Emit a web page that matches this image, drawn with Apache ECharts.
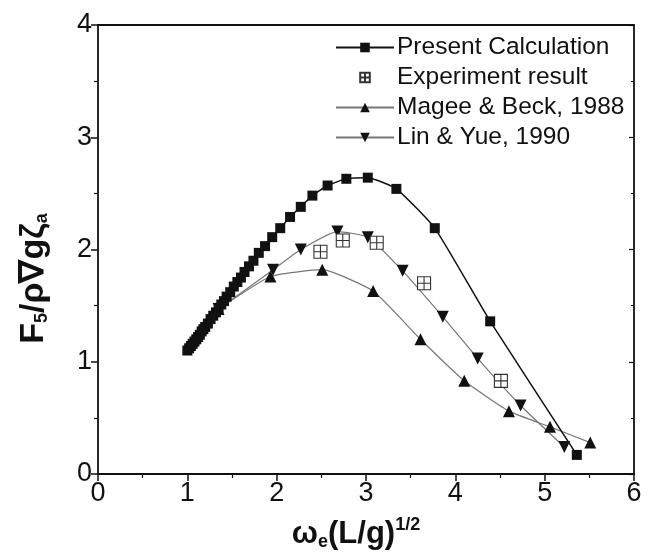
<!DOCTYPE html>
<html><head><meta charset="utf-8">
<script src="https://cdn.jsdelivr.net/npm/echarts@6/dist/echarts.min.js"></script>
<style>html,body{margin:0;padding:0;background:#fff}#c{width:648px;height:554px}</style>
</head><body><div id="c"></div>
<script>
var presentX = [1.00,1.02,1.04,1.06,1.08,1.10,1.12,1.14,1.16,1.18,1.20,1.23,1.26,1.29,1.32,1.35,1.38,1.41,1.44,1.48,1.52,1.56,1.60,1.64,1.69,1.74,1.80,1.87,1.95,2.04,2.15,2.27,2.40,2.57,2.78,3.02,3.34,3.77,4.39,5.36];
var presentY = [1.10,1.12,1.14,1.16,1.18,1.20,1.22,1.24,1.27,1.29,1.31,1.34,1.38,1.41,1.44,1.48,1.51,1.54,1.58,1.62,1.67,1.71,1.75,1.80,1.85,1.90,1.97,2.03,2.11,2.19,2.29,2.38,2.48,2.57,2.63,2.64,2.54,2.19,1.36,0.17];
var expX = [2.49,2.74,3.12,3.65,4.51];
var expY = [1.98,2.08,2.06,1.70,0.83];
var mageeX = [1.35,1.93,2.51,3.08,3.61,4.10,4.60,5.06,5.51];
var mageeY = [1.47,1.76,1.82,1.63,1.20,0.83,0.56,0.42,0.28];
var linX = [1.35,1.96,2.27,2.68,3.02,3.41,3.86,4.25,4.73,5.22];
var linY = [1.47,1.82,2.00,2.16,2.11,1.81,1.40,1.03,0.61,0.24];
var xTicks = ['0','1','2','3','4','5','6'];
var yTicks = ['0','1','2','3','4'];
var names = ['Present Calculation','Experiment result','Magee & Beck, 1988','Lin & Yue, 1990'];

function pairs(xs, ys){ return xs.map(function(x,i){return [x, ys[i]];}); }

var expSymbol = 'path://M0,0 L10,0 L10,10 L0,10 Z M5,0 L5,10 M0,5 L10,5';
var font = 'Liberation Sans, Arial, sans-serif';

var chart = echarts.init(document.getElementById('c'), null, {renderer:'canvas'});
chart.setOption({
  animation:false,
  backgroundColor:'#fff',
  grid:{left:98,right:14,top:25,bottom:80,containLabel:false,outerBoundsMode:'none'},
  legend:{
    left:330, top:30, orient:'vertical', itemGap:5, itemWidth:58, itemHeight:12,
    textStyle:{fontFamily:font,fontSize:24.5,color:'#111',padding:[0,0,0,-2]},
    data:names
  },
  xAxis:[{
    type:'value', min:0, max:6, interval:1, position:'bottom',
    name:'{w|ω}{s|e}{w|(L/g)}{p|1/2}', nameLocation:'middle', nameGap:42,
    nameTextStyle:{padding:[0,20,0,0],rich:{
      w:{fontFamily:font,fontSize:31,fontWeight:'bold',color:'#111'},
      s:{fontFamily:font,fontSize:18,fontWeight:'bold',color:'#111',padding:[16,0,0,0]},
      p:{fontFamily:font,fontSize:18,fontWeight:'bold',color:'#111',padding:[0,0,18,0]}
    }},
    axisLine:{show:true,onZero:false,lineStyle:{color:'#111',width:1.8}},
    axisTick:{show:true,inside:false,length:7,lineStyle:{color:'#111',width:1.5}},
    minorTick:{show:true,splitNumber:2,length:4,lineStyle:{color:'#111',width:1.2}},
    axisLabel:{fontFamily:font,fontSize:27,color:'#111',margin:6,formatter:function(v){return xTicks[v];}},
    splitLine:{show:false}
  },{
    type:'value', min:0, max:6, interval:1, position:'top',
    axisLine:{show:true,onZero:false,lineStyle:{color:'#111',width:1.8}},
    axisTick:{show:false}, axisLabel:{show:false}, splitLine:{show:false}
  }],
  yAxis:[{
    type:'value', min:0, max:4, interval:1, position:'left',
    name:'{b|F}{s|5}{b|/ρ∇gζ}{s|a}', nameLocation:'middle', nameGap:47, nameRotate:90,
    nameTextStyle:{padding:[0,58,0,0],rich:{
      b:{fontFamily:font,fontSize:34,fontWeight:'bold',color:'#111'},
      s:{fontFamily:font,fontSize:18,fontWeight:'bold',color:'#111',padding:[16,0,0,0]}
    }},
    axisLine:{show:true,onZero:false,lineStyle:{color:'#111',width:1.8}},
    axisTick:{show:true,inside:false,length:7,lineStyle:{color:'#111',width:1.5}},
    minorTick:{show:true,splitNumber:2,length:4,lineStyle:{color:'#111',width:1.2}},
    axisLabel:{fontFamily:font,fontSize:27,color:'#111',margin:6,formatter:function(v){return yTicks[v];}},
    splitLine:{show:false}
  },{
    type:'value', min:0, max:4, interval:1, position:'right',
    axisLine:{show:true,onZero:false,lineStyle:{color:'#111',width:1.8}},
    axisTick:{show:true,inside:true,length:5,lineStyle:{color:'#111',width:1.2}},
    minorTick:{show:true,splitNumber:2,length:3,lineStyle:{color:'#111',width:1}},
    axisLabel:{show:false}, splitLine:{show:false}
  }],
  series:[
    {name:names[0],type:'line',data:pairs(presentX,presentY),symbol:'rect',symbolSize:10,
     lineStyle:{color:'#111',width:1.5},itemStyle:{color:'#111'},smooth:0.15,z:5},
    {name:names[1],type:'line',data:pairs(expX,expY),symbol:expSymbol,symbolSize:13,
     lineStyle:{width:0,opacity:0},itemStyle:{color:'#fff',borderColor:'#333',borderWidth:1.1},z:4},
    {name:names[2],type:'line',data:pairs(mageeX,mageeY),symbol:'triangle',symbolSize:12,
     lineStyle:{color:'#777',width:1.2},itemStyle:{color:'#111'},smooth:0.15,z:3},
    {name:names[3],type:'line',data:pairs(linX,linY),symbol:'triangle',symbolRotate:180,symbolSize:12,
     lineStyle:{color:'#777',width:1.2},itemStyle:{color:'#111'},smooth:0.15,z:3}
  ]
});
</script></body></html>
